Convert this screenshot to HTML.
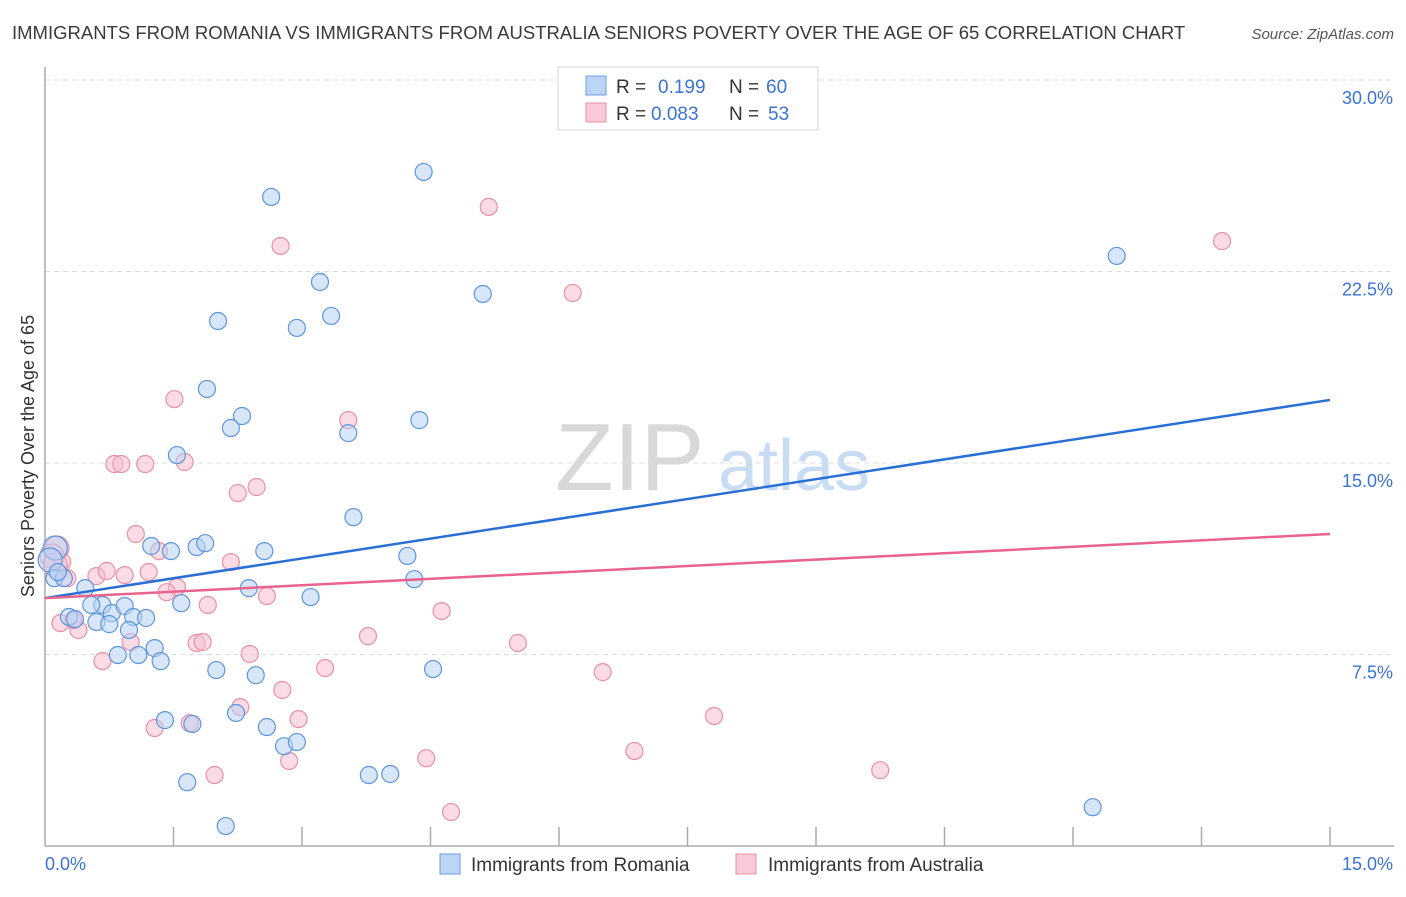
<!DOCTYPE html>
<html><head><meta charset="utf-8"><style>
body{margin:0;background:#fff;font-family:"Liberation Sans",sans-serif;}
svg text{font-family:"Liberation Sans",sans-serif;}
</style></head><body>
<svg id="chart" width="1406" height="892" viewBox="0 0 1406 892">
<text x="12" y="39" font-size="18.5" fill="#3a3a3a">IMMIGRANTS FROM ROMANIA VS IMMIGRANTS FROM AUSTRALIA SENIORS POVERTY OVER THE AGE OF 65 CORRELATION CHART</text>
<text x="1394" y="39" font-size="15" fill="#555" font-style="italic" text-anchor="end">Source: ZipAtlas.com</text>
<text transform="translate(34,456) rotate(-90)" font-size="18" fill="#333" text-anchor="middle">Seniors Poverty Over the Age of 65</text>
<g>
<text x="555" y="490" font-size="96" fill="#d8d8d8" font-family="Liberation Serif,serif">ZIP</text>
<text x="718" y="490" font-size="72" fill="#c8dcf3">atlas</text>
</g>
<g id="grid"></g><g id="axes"></g><g id="pts"></g><g id="lines"></g>
<g>
<rect x="558" y="67" width="260" height="63" fill="#fff" stroke="#d4d4d4"/>
<rect x="586" y="76" width="20" height="19" fill="#bcd5f5" stroke="#6a9fe0"/>
<rect x="586" y="103" width="20" height="19" fill="#f8c9d6" stroke="#e890a8"/>
<text x="616" y="93" font-size="19" fill="#333">R = </text><text x="658" y="93" font-size="19" fill="#3b73d6">0.199</text>
<text x="729" y="93" font-size="19" fill="#333">N = </text><text x="766" y="93" font-size="19" fill="#3b73d6">60</text>
<text x="616" y="120" font-size="19" fill="#333">R = </text><text x="651" y="120" font-size="19" fill="#3b73d6">0.083</text>
<text x="729" y="120" font-size="19" fill="#333">N = </text><text x="768" y="120" font-size="19" fill="#3b73d6">53</text>
</g>
<g>
<rect x="440" y="854" width="20" height="20" fill="#bcd5f5" stroke="#6a9fe0"/>
<text x="471" y="871" font-size="19" fill="#333">Immigrants from Romania</text>
<rect x="736" y="854" width="20" height="20" fill="#f8c9d6" stroke="#e890a8"/>
<text x="768" y="871" font-size="19" fill="#333">Immigrants from Australia</text>
</g>
</svg>
<script>
const yTicks=[7.5,15,22.5,30];
const yTickLabels=["7.5%","15.0%","22.5%","30.0%"];
const xTicks=[0,1.5,3,4.5,6,7.5,9,10.5,12,13.5,15];
const blueX=[2.64,4.42,3.21,2.02,2.94,3.34,5.11,12.51,1.89,2.30,2.17,3.54,4.37,1.54,3.60,1.24,1.47,1.77,1.87,2.56,4.23,4.31,2.38,3.10,1.59,0.12,0.06,0.11,0.22,0.47,0.67,0.54,0.28,0.35,0.78,0.93,0.60,0.75,1.03,1.18,0.98,0.85,1.09,1.28,1.35,2.00,2.46,4.53,1.40,1.72,2.23,2.59,2.79,2.94,1.66,3.78,4.03,2.11,12.23,0.15];
const blueY=[25.42,26.40,22.09,20.56,20.29,20.76,21.62,23.11,17.90,16.84,16.37,16.17,16.68,15.31,12.88,11.75,11.55,11.71,11.86,11.55,11.36,10.45,10.10,9.75,9.51,11.67,11.20,10.49,10.49,10.10,9.44,9.44,8.97,8.89,9.12,9.40,8.77,8.69,8.97,8.93,8.46,7.48,7.48,7.75,7.24,6.89,6.69,6.93,4.93,4.78,5.21,4.66,3.91,4.07,2.50,2.78,2.82,0.78,1.52,10.73];
const pinkX=[5.18,2.75,6.16,13.74,1.51,3.54,0.81,0.89,1.17,1.63,2.25,2.47,1.06,1.33,2.17,0.14,0.08,0.20,0.26,0.60,0.72,0.93,1.21,1.54,1.42,1.90,2.59,4.63,0.18,0.39,0.33,1.00,1.77,1.84,3.77,5.52,2.39,0.67,3.27,6.51,2.77,2.28,2.96,7.81,1.28,1.69,6.88,2.85,4.45,1.98,9.75,4.74,0.12];
const pinkY=[25.03,23.50,21.66,23.69,17.50,16.68,14.96,14.96,14.96,15.04,13.82,14.06,12.22,11.55,11.12,11.67,11.36,11.12,10.49,10.57,10.77,10.61,10.73,10.14,9.94,9.44,9.79,9.20,8.73,8.46,8.85,7.99,7.95,7.99,8.22,7.95,7.52,7.24,6.97,6.81,6.11,5.44,4.97,5.09,4.62,4.81,3.72,3.33,3.44,2.78,2.97,1.33,11.00];
const blueTrend=[9.71,17.47];
const pinkTrend=[9.71,12.22];
const NS="http://www.w3.org/2000/svg";
const X0=45,X1=1330,Y0=846,Y30=80;
const xs=v=>X0+(v/15)*(X1-X0);
const ys=v=>Y0-(v/30)*(Y0-Y30);
function mk(t,a,p){const e=document.createElementNS(NS,t);for(const k in a)e.setAttribute(k,a[k]);p.appendChild(e);return e;}
const grid=document.getElementById('grid'),axes=document.getElementById('axes'),pts=document.getElementById('pts'),lines=document.getElementById('lines');
yTicks.forEach((t,i)=>{
 const l=mk('line',{x1:X0,x2:1394,y1:ys(t),y2:ys(t),stroke:'#dcdcdc','stroke-dasharray':'5,4'},grid);
 
 
 const tx=mk('text',{x:1393,y:ys(t)+24,'font-size':18,fill:'#3b73d6','text-anchor':'end'},axes);
 tx.textContent=yTickLabels[i];
 
 
});
const ya=mk('line',{x1:X0,x2:X0,y1:67,y2:Y0,stroke:'#aaa','stroke-width':1.5},axes);


const xa=mk('line',{x1:X0,x2:1394,y1:Y0,y2:Y0,stroke:'#aaa','stroke-width':1.5},axes);


xTicks.slice(1).forEach(t=>{
 const l=mk('line',{x1:xs(t),x2:xs(t),y1:Y0-19,y2:Y0,stroke:'#aaa','stroke-width':1.5},axes);
 
 
});
const xl0=mk('text',{x:45,y:870,'font-size':18,fill:'#3b73d6'},axes);xl0.textContent='0.0%';


const xl1=mk('text',{x:1393,y:870,'font-size':18,fill:'#3b73d6','text-anchor':'end'},axes);xl1.textContent='15.0%';


function draw(X,Y,fill,stroke,name){X.forEach((x,i)=>{
 const r=(x<0.2&&Y[i]>10.9&&Y[i]<11.8)?12:8.5;
 const c=mk('circle',{cx:xs(x),cy:ys(Y[i]),r:r,fill:fill,'fill-opacity':0.55,stroke:stroke,'stroke-width':1.2},pts);
 
 
});}
draw(pinkX,pinkY,'#f8c0d0','#e890a8','point-australia');
draw(blueX,blueY,'#b8d2f4','#5f95de','point-romania');
const bl=mk('line',{x1:xs(0),y1:ys(blueTrend[0]),x2:xs(15),y2:ys(blueTrend[1]),stroke:'#2a6fd6','stroke-width':2.5},lines);


const pl=mk('line',{x1:xs(0),y1:ys(pinkTrend[0]),x2:xs(15),y2:ys(pinkTrend[1]),stroke:'#e8638e','stroke-width':2.5},lines);


</script>
</body></html>
